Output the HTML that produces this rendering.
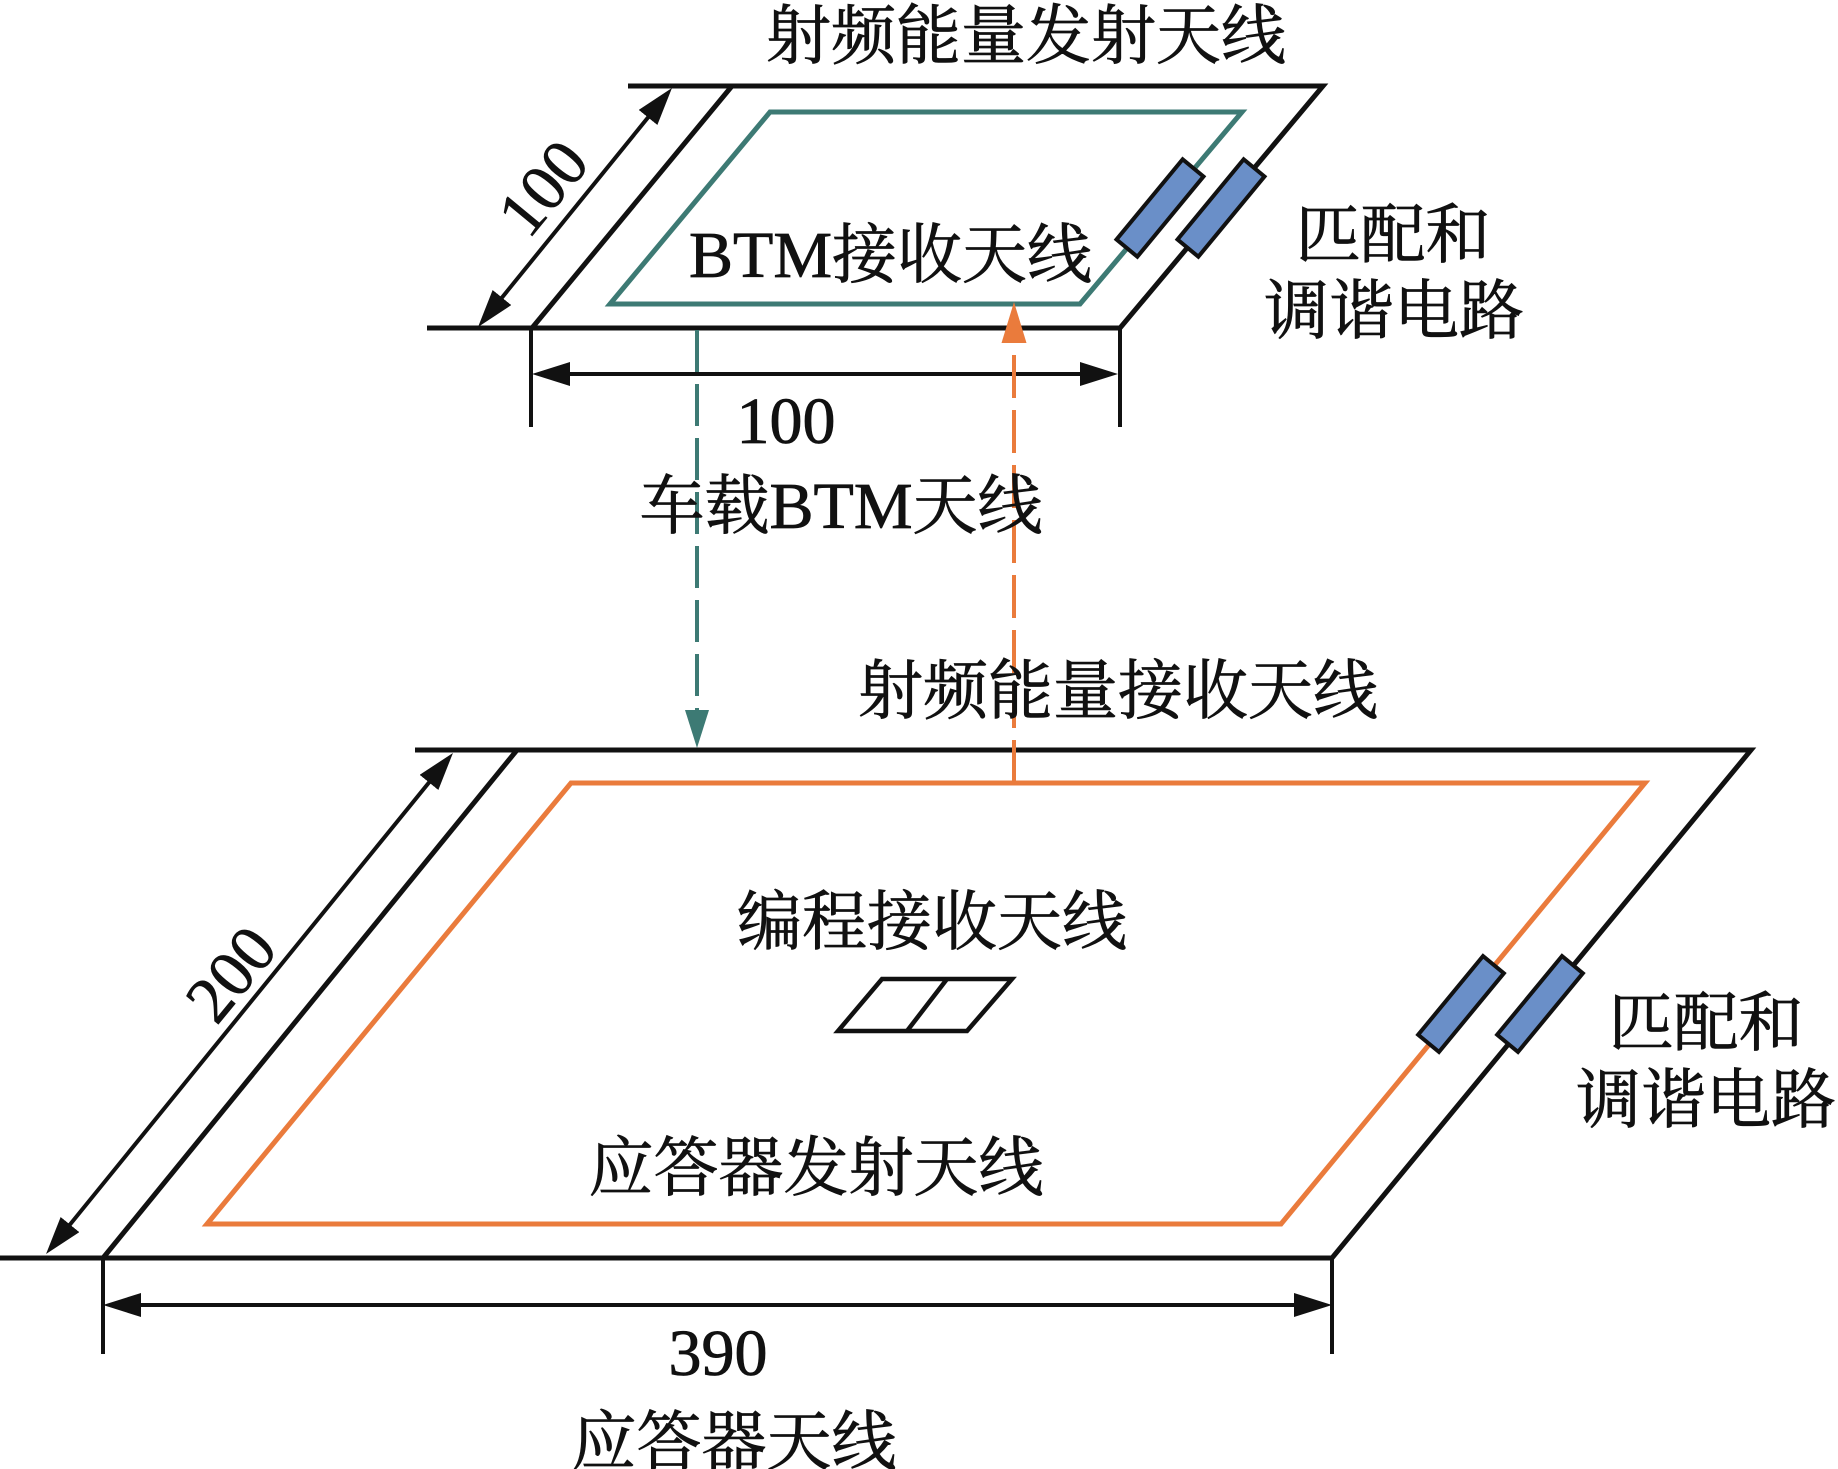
<!DOCTYPE html>
<html>
<head>
<meta charset="utf-8">
<style>
  html,body{margin:0;padding:0;background:#fff;}
  svg{display:block;}
  text{font-family:"Liberation Serif","Noto Serif CJK SC","Noto Sans CJK SC",serif;fill:#111;font-size:65px;stroke:#111;stroke-width:0.8px;}
  .d{font-size:66px;}
</style>
</head>
<body>
<svg width="1838" height="1469" viewBox="0 0 1838 1469" xmlns="http://www.w3.org/2000/svg">
  <defs>
    <marker id="ah" viewBox="0 0 38 24" refX="23" refY="12" markerWidth="38" markerHeight="24" markerUnits="userSpaceOnUse" orient="auto-start-reverse">
      <path d="M0,0 L38,12 L0,24 z" fill="#111"/>
    </marker>
  </defs>
  <rect width="1838" height="1469" fill="#fff"/>

  <!-- ===== Top (vehicle BTM) antenna ===== -->
  <polyline points="628,86 1323,86 1120,328 427,328" fill="none" stroke="#111" stroke-width="5" stroke-linejoin="miter"/>
  <line x1="532" y1="328" x2="732" y2="86" stroke="#111" stroke-width="5"/>
  <!-- green inner loop -->
  <polygon points="770,112 1242,112 1080,304 610,304" fill="none" stroke="#3d7a74" stroke-width="5"/>
  <!-- ticks -->
  <line x1="531" y1="328" x2="531" y2="427" stroke="#111" stroke-width="4"/>
  <line x1="1120" y1="328" x2="1120" y2="427" stroke="#111" stroke-width="4"/>
  <!-- horizontal dimension -->
  <line x1="547" y1="374" x2="1103" y2="374" stroke="#111" stroke-width="4" marker-start="url(#ah)" marker-end="url(#ah)"/>
  <!-- diagonal dimension -->
  <line x1="487.5" y1="315.4" x2="662.5" y2="99.6" stroke="#111" stroke-width="4" marker-start="url(#ah)" marker-end="url(#ah)"/>
  <!-- matching components -->
  <rect x="-52" y="-13.5" width="104" height="27" transform="translate(1160,208) rotate(-50.5)" fill="#6a8fc8" stroke="#111" stroke-width="4"/>
  <rect x="-52" y="-13.5" width="104" height="27" transform="translate(1221,208) rotate(-50.5)" fill="#6a8fc8" stroke="#111" stroke-width="4"/>

  <!-- ===== Bottom (balise) antenna ===== -->
  <polyline points="415,750 1751,750 1332,1258 0,1258" fill="none" stroke="#111" stroke-width="5" stroke-linejoin="miter"/>
  <line x1="103" y1="1258" x2="517" y2="750" stroke="#111" stroke-width="5"/>
  <!-- orange inner loop -->
  <polygon points="571,783 1645,783 1281,1224 207,1224" fill="none" stroke="#ea7b3c" stroke-width="5"/>
  <!-- ticks -->
  <line x1="103" y1="1258" x2="103" y2="1354" stroke="#111" stroke-width="4"/>
  <line x1="1332" y1="1258" x2="1332" y2="1354" stroke="#111" stroke-width="4"/>
  <!-- horizontal dimension -->
  <line x1="118" y1="1305" x2="1317" y2="1305" stroke="#111" stroke-width="4" marker-start="url(#ah)" marker-end="url(#ah)"/>
  <!-- diagonal dimension -->
  <line x1="55.5" y1="1242.4" x2="443.5" y2="764.6" stroke="#111" stroke-width="4" marker-start="url(#ah)" marker-end="url(#ah)"/>
  <!-- matching components -->
  <rect x="-51" y="-13.5" width="102" height="27" transform="translate(1461,1004) rotate(-50.5)" fill="#6a8fc8" stroke="#111" stroke-width="4"/>
  <rect x="-51" y="-13.5" width="102" height="27" transform="translate(1540,1004) rotate(-50.5)" fill="#6a8fc8" stroke="#111" stroke-width="4"/>
  <!-- programming receive antenna -->
  <polygon points="882,979 1012,979 967,1031 838,1031" fill="none" stroke="#111" stroke-width="4.5"/>
  <line x1="947" y1="979" x2="907" y2="1031" stroke="#111" stroke-width="4.5"/>

  <!-- ===== Coupling arrows ===== -->
  <line x1="697" y1="330" x2="697" y2="712" stroke="#3d7a74" stroke-width="4" stroke-dasharray="42 12"/>
  <polygon points="685,710 709,710 697,748" fill="#3d7a74"/>
  <line x1="1014" y1="783" x2="1014" y2="343" stroke="#ea7b3c" stroke-width="4" stroke-dasharray="43 12"/>
  <polygon points="1001.5,343 1026.5,343 1014,302" fill="#ea7b3c"/>

  <!-- ===== Labels ===== -->
  <text x="1026" y="58" text-anchor="middle">射频能量发射天线</text>
  <text x="689" y="277" class="d">BTM<tspan font-size="65">接收天线</tspan></text>
  <text x="1393" y="257" text-anchor="middle">匹配和</text>
  <text x="1394" y="333" text-anchor="middle">调谐电路</text>
  <text x="786" y="443" text-anchor="middle" class="d">100</text>
  <text x="841" y="528" text-anchor="middle">车载<tspan class="d">BTM</tspan>天线</text>
  <text transform="translate(560,202) rotate(-50.5)" x="0" y="0" text-anchor="middle" class="d">100</text>

  <text x="1118" y="713" text-anchor="middle">射频能量接收天线</text>
  <text x="932" y="944" text-anchor="middle">编程接收天线</text>
  <text x="816" y="1190" text-anchor="middle">应答器发射天线</text>
  <text x="1706" y="1045" text-anchor="middle">匹配和</text>
  <text x="1706" y="1122" text-anchor="middle">调谐电路</text>
  <text transform="translate(248,988) rotate(-50.5)" x="0" y="0" text-anchor="middle" class="d">200</text>
  <text x="718" y="1375" text-anchor="middle" class="d">390</text>
  <text x="734" y="1464" text-anchor="middle">应答器天线</text>
</svg>
</body>
</html>
